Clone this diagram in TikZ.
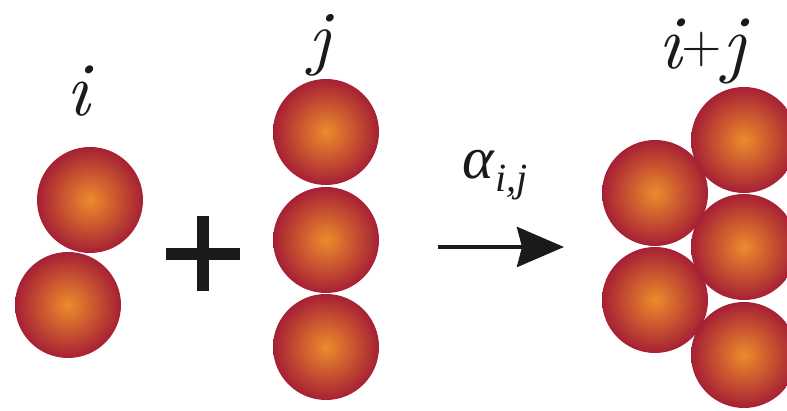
\documentclass[tikz,border=0pt]{standalone}
\usepackage{fontspec}
\setmainfont{Liberation Serif}
\newfontfamily\lblfont{lmroman10-italic.otf}
\newfontfamily\plusfont{lmroman10-regular.otf}
\usetikzlibrary{arrows.meta}
\definecolor{ballcore}{RGB}{236,140,44}
\definecolor{ballrim}{RGB}{166,32,52}
\definecolor{ink}{RGB}{26,26,26}
\newcommand{\subidx}[1]{\raisebox{-0.22em}{\fontsize{40}{44}\selectfont\itshape #1}}
\newcommand{\smallplus}{\raisebox{6pt}{\plusfont\fontsize{52}{56}\selectfont +}}
\tikzset{
	ball/.style={circle, minimum size=106pt, inner sep=0pt, shading=radial, inner color=ballcore, outer color=ballrim},
	lbl/.style={text=ink, inner sep=0pt, font=\lblfont\fontsize{76}{80}\selectfont}
}
\begin{document}
	\begin{tikzpicture}[x=1pt, y=1pt]
		\clip (0, 0) rectangle (787, 411);
		
		% Cluster i
		\node[ball] (i1) at (90, 211) {};
		\node[ball] (i2) at (68, 106) {};
		\node[lbl] (li) at (78, 320) {i};
		
		% Plus
		\draw[ink, line width=12pt] (166, 157) -- (240, 157);
		\draw[ink, line width=12pt] (203, 120) -- (203, 195);
		
		% Cluster j
		\node[ball] (j1) at (326, 279) {};
		\node[ball] (j2) at (326, 171) {};
		\node[ball] (j3) at (326, 64) {};
		\node[lbl, font=\lblfont\fontsize{72}{76}\selectfont] (lj) at (320, 366) {j};
		
		% Rate
		\coordinate (a0) at (438, 164);
		\coordinate (a1) at (564, 164);
		\draw[ink, line width=4pt, -{Stealth[length=47pt, width=40pt, inset=5pt]}] (a0) -- (a1);
		\node[text=ink, inner sep=0pt, font=\fontsize{60}{64}\selectfont] (rate) at (495, 236) {\textit{α}\subidx{i,j}};
		
		% Cluster i+j
		\node[ball] (k1) at (655, 218) {};
		\node[ball] (k2) at (655, 111) {};
		\node[ball] (k3) at (744, 271) {};
		\node[ball] (k4) at (744, 164) {};
		\node[ball] (k5) at (744, 56) {};
		\node[lbl] (lk) at (702, 360) {i\smallplus j};
	\end{tikzpicture}
\end{document}
